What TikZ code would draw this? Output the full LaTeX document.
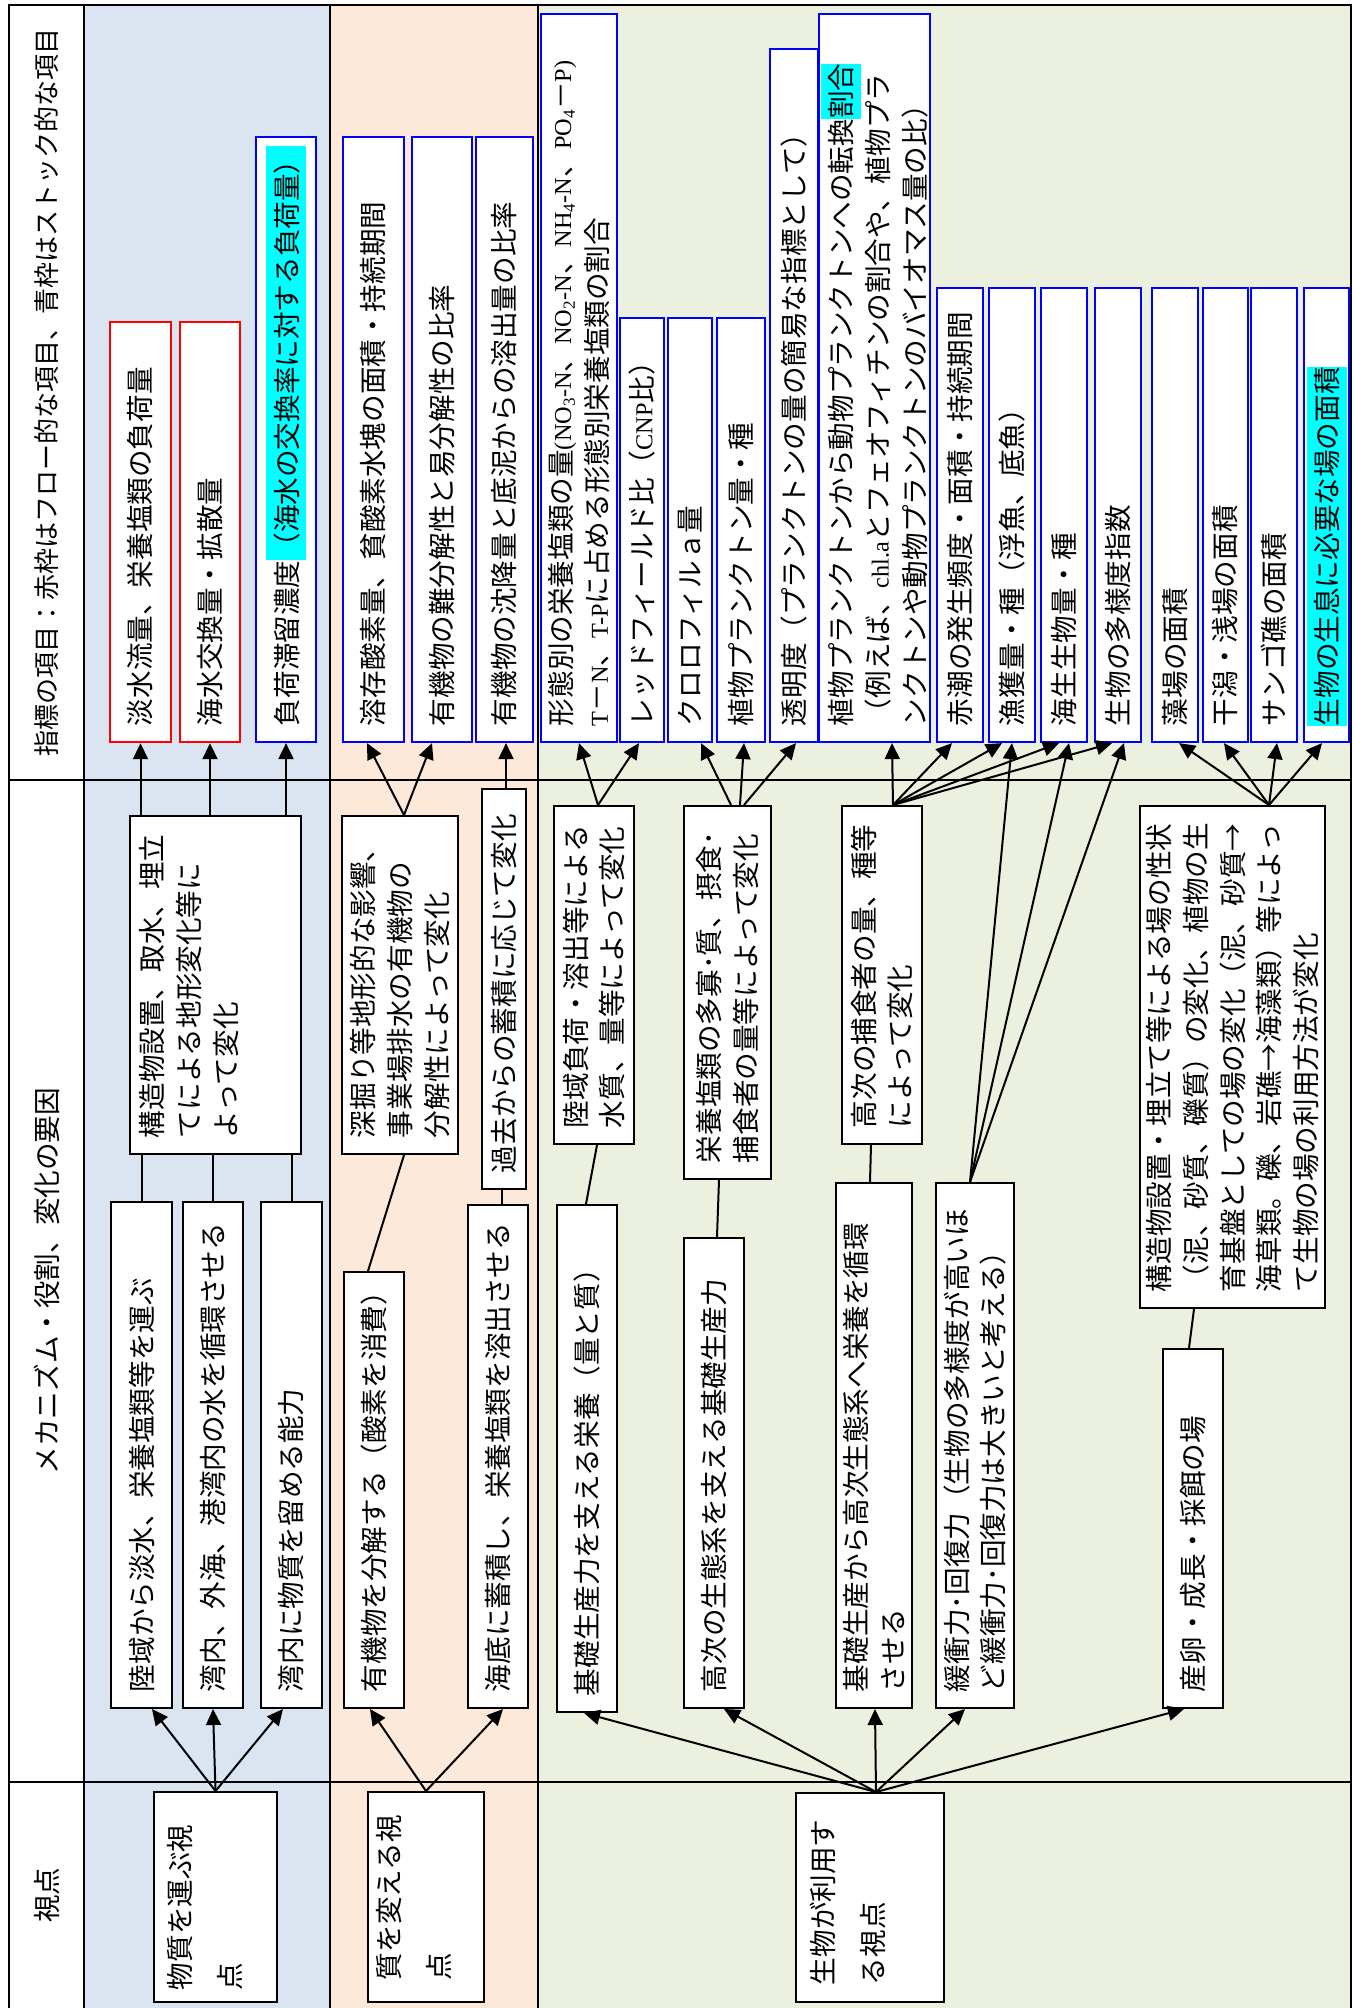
\documentclass[tikz,border=0pt]{standalone}
\usepackage{fontspec}
\setmainfont{Noto Sans CJK JP}
\newfontfamily\latf{Liberation Serif}[Scale=0.88]
\usetikzlibrary{arrows.meta}
\definecolor{bandblue}{HTML}{DBE5F1}
\definecolor{bandorange}{HTML}{FDE9D9}
\definecolor{bandgreen}{HTML}{EBF1DE}
\definecolor{hlcyan}{HTML}{00FFFF}
\definecolor{flowred}{HTML}{FF0000}
\definecolor{stockblue}{HTML}{0000FF}
\newcommand\bodyfont{\fontsize{27.6pt}{36.8pt}\selectfont}
\newcommand\vpfont{\fontsize{27.6pt}{50pt}\selectfont}
\newcommand\hl[1]{{\setlength{\fboxsep}{0pt}\colorbox{hlcyan}{\rule[-9pt]{0pt}{40pt}#1}}}
\begin{document}
\begin{tikzpicture}[x=1pt,y=1pt,
  bx/.style={draw, fill=white, line width=2pt, rotate=90, align=left, inner xsep=16pt, inner ysep=0pt, font=\bodyfont},
  mech/.style={bx, draw=black},
  flow/.style={bx, draw=flowred, line width=2.4pt},
  stock/.style={bx, draw=stockblue, line width=2.2pt},
  txt/.style={rotate=90, align=left, inner sep=0pt, font=\bodyfont},
  arr/.style={line width=2pt, -{Triangle[length=16pt,width=15pt]}},
  ln/.style={line width=2pt},
  outerline/.style={line width=2.5pt},
  divline/.style={line width=2pt}]
\fill[white] (0,0) rectangle (1353,-2008);
\useasboundingbox (0,0) rectangle (1353,-2008);
% bands
\fill[bandblue] (84,-5) rectangle (330,-2008);
\fill[bandorange] (330,-5) rectangle (538,-2008);
\fill[bandgreen] (538,-5) rectangle (1351,-2008);
\draw[divline] (9,-780) -- (1351,-780);
\draw[divline] (9,-1782) -- (1351,-1782);
\draw[divline] (84,-5) -- (84,-2008);
\draw[divline] (330,-5) -- (330,-2008);
\draw[divline] (538,-5) -- (538,-2008);
\draw[outerline] (9,-2008) -- (9,-5) -- (1351,-5) -- (1351,-2008);
% headers
\node[txt, font=\fontsize{26pt}{30pt}\selectfont] (H1) at (47,-392) {指標の項目：赤枠はフロー的な項目、青枠はストック的な項目};
\node[txt] (H2) at (47,-1281) {メカニズム・役割、変化の要因};
\node[txt] (H3) at (47,-1895) {視点};
% indicators
\node[flow, minimum width=420pt, minimum height=61pt, text width=388pt] (I1) at (140.5,-532) {淡水流量、栄養塩類の負荷量};
\node[flow, minimum width=420pt, minimum height=60pt, text width=388pt] (I2) at (210,-532) {海水交換量・拡散量};
\node[stock, minimum width=605pt, minimum height=60pt, text width=573pt] (I3) at (286,-439.5) {負荷滞留濃度\hl{（海水の交換率に対する負荷量）}};
\node[stock, minimum width=605pt, minimum height=61pt, text width=573pt] (I4) at (373.5,-439.5) {溶存酸素量、貧酸素水塊の面積・持続期間};
\node[stock, minimum width=605pt, minimum height=60pt, text width=573pt] (I5) at (442,-439.5) {有機物の難分解性と易分解性の比率};
\node[stock, minimum width=605pt, minimum height=57pt, text width=573pt] (I6) at (504.5,-439.5) {有機物の沈降量と底泥からの溶出量の比率};
\node[stock, minimum width=728pt, minimum height=76pt, text width=696pt] (I7) at (579,-378) {形態別の栄養塩類の量{\latf(NO\textsubscript{3}-N}、{\latf NO\textsubscript{2}-N}、{\latf NH\textsubscript{4}-N}、{\latf PO\textsubscript{4}}－{\latf P)}\\{\latf T}－{\latf N}、{\latf T-P}に占める形態別栄養塩類の割合};
\node[stock, minimum width=424pt, minimum height=44pt, text width=392pt] (I8) at (642,-530) {レッドフィールド比（{\latf CNP}比）};
\node[stock, minimum width=424pt, minimum height=44pt, text width=392pt] (I9) at (690,-530) {クロロフィルａ量};
\node[stock, minimum width=424pt, minimum height=48pt, text width=392pt] (I10) at (741,-530) {植物プランクトン量・種};
\node[stock, minimum width=693pt, minimum height=48pt, text width=661pt] (I11) at (794,-395.5) {透明度（プランクトンの量の簡易な指標として）};
\node[stock, minimum width=728pt, minimum height=111pt, text width=696pt] (I12) at (874.5,-378) {植物プランクトンから動物プランクトンへの転換\hl{割合}\\（例えば、{\latf chl.a}とフェオフィチンの割合や、植物プラ\\ンクトンや動物プランクトンのバイオマス量の比）};
\node[stock, minimum width=454pt, minimum height=46pt, text width=422pt] (I13) at (960,-515) {赤潮の発生頻度・面積・持続期間};
\node[stock, minimum width=454pt, minimum height=46pt, text width=422pt] (I14) at (1012,-515) {漁獲量・種（浮魚、底魚）};
\node[stock, minimum width=454pt, minimum height=46pt, text width=422pt] (I15) at (1064,-515) {海生生物量・種};
\node[stock, minimum width=454pt, minimum height=46pt, text width=422pt] (I16) at (1118,-515) {生物の多様度指数};
\node[stock, minimum width=454pt, minimum height=46pt, text width=422pt] (I17) at (1175,-515) {藻場の面積};
\node[stock, minimum width=454pt, minimum height=45pt, text width=422pt] (I18) at (1225.5,-515) {干潟・浅場の面積};
\node[stock, minimum width=454pt, minimum height=46pt, text width=422pt] (I19) at (1274,-515) {サンゴ礁の面積};
\node[stock, minimum width=454pt, minimum height=45pt, text width=422pt] (I20) at (1326.5,-515) {\hl{生物の生息に必要な場の面積}};
% mechanisms
\node[mech, minimum width=338pt, minimum height=171pt] (M1) at (215.5,-985) {};
\node[txt, text width=306pt] (M1t) at (189,-985) {構造物設置、取水、埋立\\てによる地形変化等に\\よって変化};
\node[mech, minimum width=506pt, minimum height=61pt, text width=474pt] (M2) at (141.5,-1455) {陸域から淡水、栄養塩類等を運ぶ};
\node[mech, minimum width=506pt, minimum height=60pt, text width=474pt] (M3) at (213,-1455) {湾内、外海、港湾内の水を循環させる};
\node[mech, minimum width=506pt, minimum height=61pt, text width=474pt] (M4) at (291.5,-1455) {湾内に物質を留める能力};
\node[mech, minimum width=338pt, minimum height=116pt, text width=306pt] (M5) at (400,-985) {深掘り等地形的な影響、\\事業場排水の有機物の\\分解性によって変化};
\node[mech, minimum width=436pt, minimum height=60pt, text width=404pt] (M6) at (374,-1490) {有機物を分解する（酸素を消費）};
\node[mech, minimum width=400pt, minimum height=44pt, text width=368pt] (M7) at (504,-989) {過去からの蓄積に応じて変化};
\node[mech, minimum width=503pt, minimum height=60pt, text width=471pt] (M8) at (498,-1456.5) {海底に蓄積し、栄養塩類を溶出させる};
\node[mech, minimum width=338pt, minimum height=80pt, text width=306pt] (M9) at (594,-975) {陸域負荷・溶出等による\\水質、量等によって変化};
\node[mech, minimum width=507pt, minimum height=60pt, text width=475pt] (M10) at (587,-1458.5) {基礎生産力を支える栄養（量と質）};
\node[mech, minimum width=373pt, minimum height=87pt, text width=341pt] (M11) at (727.5,-992.5) {栄養塩類の多寡･質、摂食･\\捕食者の量等によって変化};
\node[mech, minimum width=470pt, minimum height=60pt, text width=438pt] (M12) at (714,-1473) {高次の生態系を支える基礎生産力};
\node[mech, minimum width=338pt, minimum height=80pt, text width=306pt] (M13) at (882,-975) {高次の捕食者の量、種等\\によって変化};
\node[mech, minimum width=525pt, minimum height=76pt, text width=493pt] (M14) at (874,-1445.5) {基礎生産から高次生態系へ栄養を循環\\させる};
\node[mech, minimum width=525pt, minimum height=78pt, text width=493pt] (M15) at (975,-1445.5) {緩衝力･回復力（生物の多様度が高いほ\\ど緩衝力･回復力は大きいと考える）};
\node[mech, minimum width=502pt, minimum height=185pt, text width=470pt] (M16) at (1232.5,-1057) {構造物設置・埋立て等による場の性状\\（泥、砂質、礫質）の変化、植物の生\\育基盤としての場の変化（泥、砂質→\\海草類。礫、岩礁→海藻類）等によっ\\て生物の場の利用方法が変化};
\node[mech, minimum width=359pt, minimum height=60pt, text width=327pt] (M17) at (1193,-1528.5) {産卵・成長・採餌の場};
% viewpoints
\node[mech, minimum width=210pt, minimum height=123pt] (V1) at (215.5,-1897) {};
\node[txt, text width=180pt, font=\vpfont] (V1t) at (205,-1900) {物質を運ぶ視\\点};
\node[mech, minimum width=210pt, minimum height=116pt] (V2) at (426,-1897) {};
\node[txt, text width=180pt, font=\vpfont] (V2t) at (413.5,-1890) {質を変える視\\点};
\node[mech, minimum width=209pt, minimum height=148pt] (V3) at (870,-1897.5) {};
\node[txt, text width=180pt, font=\vpfont] (V3t) at (848,-1895) {生物が利用す\\る視点};
% connectors: blue band
\draw[arr] (I1.west |- M1.east) -- (I1.west);
\draw[arr] (I2.west |- M1.east) -- (I2.west);
\draw[arr] (I3.west |- M1.east) -- (I3.west);
\draw[ln] (M2.east |- M1.west) -- (M2.east);
\draw[ln] (M3.east |- M1.west) -- (M3.east);
\draw[ln] (M4.east |- M1.west) -- (M4.east);
\draw[arr] (V1.east) -- ([xshift=10.5pt]M2.west);
\draw[arr] (V1.east) -- (M3.west);
\draw[arr] (V1.east) -- ([xshift=-8.5pt]M4.west);
% orange band
\draw[arr] ([xshift=4pt]M5.east) -- ([xshift=-6.5pt]I4.west);
\draw[arr] ([xshift=4pt]M5.east) -- ([xshift=-10pt]I5.west);
\draw[ln] ([xshift=-6pt]M6.east) -- ([xshift=4pt]M5.west);
\draw[arr] ([xshift=2pt]M7.east) -- ([xshift=1.5pt]I6.west);
\draw[ln] ([xshift=4pt]M8.east) -- ([xshift=-2pt]M7.west);
\draw[arr] (V2.east) -- ([xshift=-4pt]M6.west);
\draw[arr] (V2.east) -- ([xshift=5pt]M8.west);
% green band
\draw[arr] ([xshift=4pt]M9.east) -- (I7.west);
\draw[arr] ([xshift=4pt]M9.east) -- ([xshift=-3pt]I8.west);
\draw[ln] ([xshift=-1pt]M10.east) -- ([xshift=3pt]M9.west);
\draw[arr] ([xshift=3.5pt]M11.east) -- ([xshift=11pt]I9.west);
\draw[arr] ([xshift=12.5pt]M11.east) -- ([xshift=3pt]I10.west);
\draw[arr] ([xshift=16.5pt]M11.east) -- ([xshift=2pt]I11.west);
\draw[ln] ([xshift=3pt]M12.east) -- ([xshift=-8.5pt]M11.west);
\draw[arr] ([xshift=11pt]M13.east) -- ([xshift=17.5pt]I12.west);
\draw[arr] ([xshift=11pt]M13.east) -- ([xshift=-8pt]I13.west);
\draw[arr] ([xshift=11pt]M13.east) -- ([xshift=-10pt]I14.west);
\draw[arr] ([xshift=11pt]M13.east) -- ([xshift=-5pt]I15.west);
\draw[arr] ([xshift=11pt]M13.east) -- ([xshift=-6pt]I16.west);
\draw[ln] ([xshift=-4pt]M14.east) -- ([xshift=-11pt]M13.west);
\draw[arr] ([xshift=-5pt]M15.east) -- (I14.west);
\draw[arr] ([xshift=-5pt]M15.east) -- ([xshift=5pt]I15.west);
\draw[arr] ([xshift=-5pt]M15.east) -- ([xshift=6pt]I16.west);
\draw[arr] ([xshift=36.5pt]M16.east) -- ([xshift=4pt]I17.west);
\draw[arr] ([xshift=36.5pt]M16.east) -- ([xshift=-1.5pt]I18.west);
\draw[arr] ([xshift=36.5pt]M16.east) -- ([xshift=3pt]I19.west);
\draw[arr] ([xshift=36.5pt]M16.east) -- ([xshift=-4.5pt]I20.west);
\draw[ln] ([xshift=-4pt]M17.east) -- ([xshift=-38.5pt]M16.west);
\draw[arr] ([xshift=6pt]V3.east) -- ([xshift=-3pt]M10.west);
\draw[arr] ([xshift=6pt]V3.east) -- ([xshift=10pt]M12.west);
\draw[arr] ([xshift=6pt]V3.east) -- ([xshift=1pt]M14.west);
\draw[arr] ([xshift=6pt]V3.east) -- ([xshift=-10pt]M15.west);
\draw[arr] ([xshift=6pt]V3.east) -- ([xshift=-9pt]M17.west);
\end{tikzpicture}
\end{document}
